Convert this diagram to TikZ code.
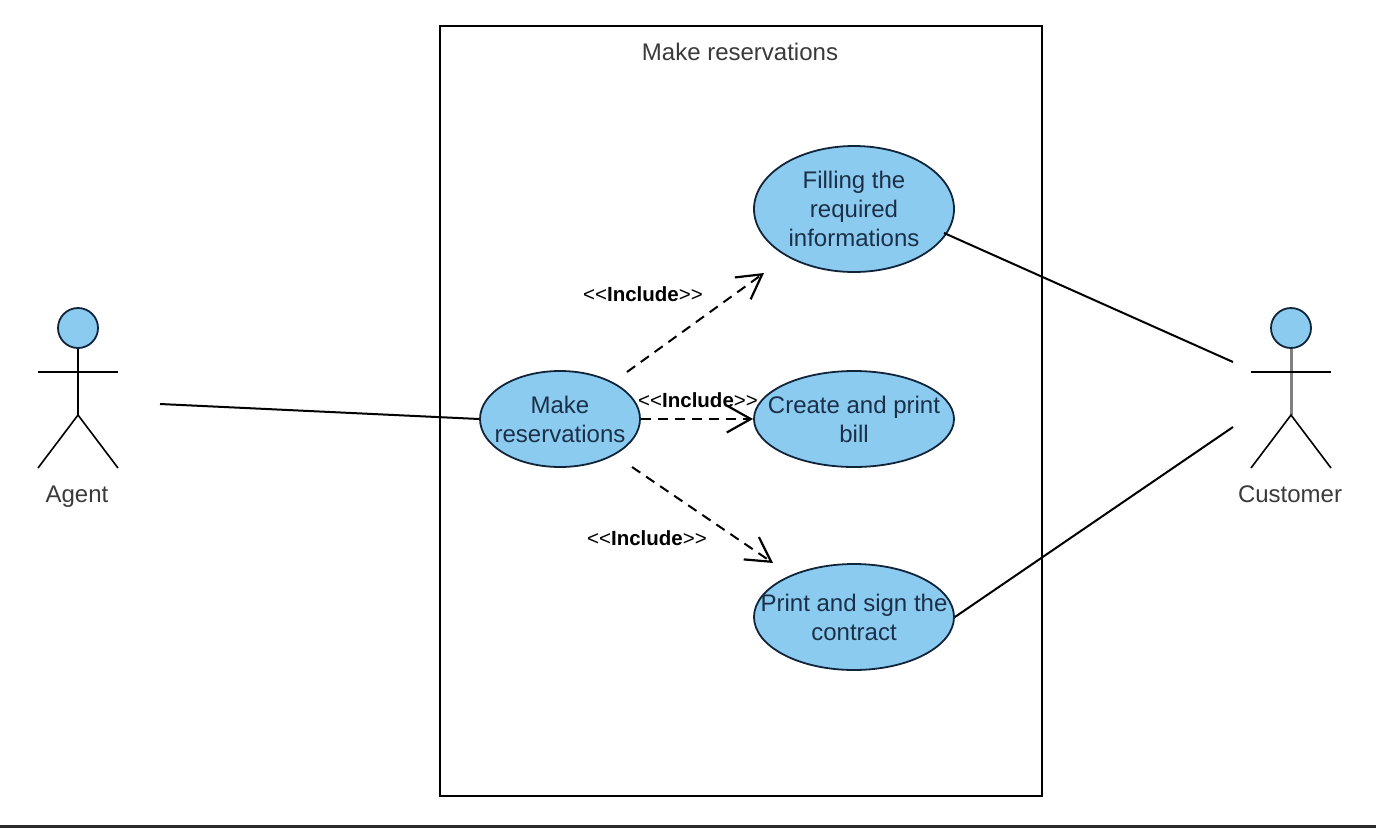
\documentclass[tikz,border=0pt]{standalone}
\usepackage{fontspec}
\setmainfont{Liberation Sans}
\newfontfamily\labfont{Liberation Sans}
\usetikzlibrary{arrows.meta,shapes.geometric}
\definecolor{ucfill}{HTML}{8CCBF0}
\definecolor{ucline}{HTML}{10243A}
\definecolor{uctext}{HTML}{1B3048}
\definecolor{gtext}{HTML}{3A3A3A}
\tikzset{
  usecase/.style={draw=ucline,line width=1.8pt,fill=ucfill,ellipse,text=uctext,align=center,inner xsep=-30pt,inner ysep=-20pt,font=\fontsize{24}{29}\selectfont},
  actorhead/.style={circle,draw=ucline,line width=1.8pt,fill=ucfill,minimum size=40pt,inner sep=0pt},
  limb/.style={draw=black,line width=1.6pt},
  assoc/.style={draw=black,line width=2pt},
  incl/.style={draw=black,line width=2pt,dash pattern=on 10pt off 7pt,-{Straight Barb[length=24pt,width=27pt,line width=2.2pt]}},
  inclabel/.style={font=\labfont\fontsize{20.5}{24}\selectfont,text=black,inner sep=0pt},
  actorlabel/.style={font=\fontsize{24}{28}\selectfont,text=gtext,inner sep=0pt,anchor=base},
}
\begin{document}
\begin{tikzpicture}[x=1pt,y=-1pt]
\useasboundingbox (0,0) rectangle (1376,828);
\fill[fill=white] (0,0) rectangle (1376,828);
\fill[fill=black!83] (0,825) rectangle (1376,828);
\node[draw=black,line width=2pt,minimum width=602pt,minimum height=770pt,inner sep=0pt] (frame) at (741,411) {};
\node[actorlabel] (title) at (740,60) {Make reservations};
\node[usecase,minimum width=160pt,minimum height=96pt] (make) at (560,419) {Make\\reservations};
\node[usecase,minimum width=200pt,minimum height=126pt] (fill) at (854,209) {Filling the\\required\\informations};
\node[usecase,minimum width=200pt,minimum height=96pt] (bill) at (854,419) {Create and print\\bill};
\node[usecase,minimum width=200pt,minimum height=106pt] (sign) at (854,617) {Print and sign the\\contract};
% Agent
\node[actorhead] (ahead) at (78,328) {};
\coordinate (ahip) at (78,415);
\coordinate (aarmL) at (38,372);
\coordinate (aarmR) at (118,372);
\coordinate (alegL) at (38,468);
\coordinate (alegR) at (118,468);
\draw[limb] (ahead) -- (ahip);
\draw[limb] (aarmL) -- (aarmR);
\draw[limb] (alegL) -- (ahip) -- (alegR);
\node[actorlabel] (agent) at (77,502) {Agent};
% Customer
\node[actorhead] (chead) at (1291,328) {};
\coordinate (chip) at (1291,415);
\coordinate (carmL) at (1251,372);
\coordinate (carmR) at (1331,372);
\coordinate (clegL) at (1251,468);
\coordinate (clegR) at (1331,468);
\draw[draw=black!50,line width=3pt] (chead) -- (chip);
\draw[limb] (carmL) -- (carmR);
\draw[limb] (clegL) -- (chip) -- (clegR);
\node[actorlabel] (customer) at (1290,502) {Customer};
% associations
\coordinate (afree) at (160,404);
\coordinate (cfreeA) at (1233,362);
\coordinate (cfreeB) at (1233,427);
\coordinate (fillend) at (944,233);
\draw[assoc] (afree) -- (make.west);
\draw[assoc] (fillend) -- (cfreeA);
\draw[assoc] (sign.east) -- (cfreeB);
% includes
\coordinate (i1s) at (627,372);
\coordinate (i1e) at (764,273);
\coordinate (i2s) at (641,419);
\coordinate (i2e) at (753,419);
\coordinate (i3s) at (632,467);
\coordinate (i3e) at (773,563);
\draw[incl] (i1s) -- (i1e);
\draw[incl] (i2s) -- (i2e);
\draw[incl] (i3s) -- (i3e);
\node[inclabel] (l1) at (643,294) {<<\textbf{Include}>>};
\node[inclabel] (l2) at (698,400) {<<\textbf{Include}>>};
\node[inclabel] (l3) at (647,538) {<<\textbf{Include}>>};
\end{tikzpicture}
\end{document}
